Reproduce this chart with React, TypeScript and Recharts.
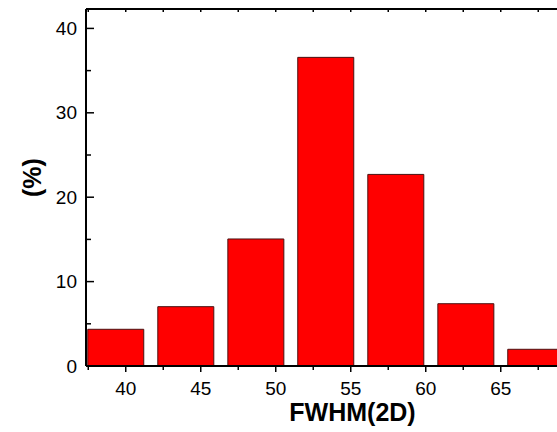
import { Bar, BarChart, XAxis, YAxis } from 'recharts'

// histogram bins of FWHM(2D), bin centres and share in percent
const binCenters = [39.33, 44.0, 48.67, 53.33, 58.0, 62.67, 67.33]
const binPercent = [4.35, 7.03, 15.05, 36.57, 22.7, 7.38, 1.98]

const xTicks = [37.5, 40, 42.5, 45, 47.5, 50, 52.5, 55, 57.5, 60, 62.5, 65, 67.5]
const yTicks = [0, 5, 10, 15, 20, 25, 30, 35, 40]

const data = binCenters.map((c, i) => ({ fwhm: c, pct: binPercent[i] }))

const FONT = '"Liberation Sans", Arial, sans-serif'

function YTick({ x, y, payload }: any) {
  const major = payload.value % 10 === 0
  return (
    <g>
      <line x1={x} x2={x + (major ? 8 : 5)} y1={y} y2={y} stroke="#000" strokeWidth={1.5} />
      {major && (
        <text x={x - 9} y={y} textAnchor="end" dominantBaseline="central" fontSize={19} fontFamily={FONT} fill="#000">
          {payload.value}
        </text>
      )}
    </g>
  )
}

function XTick({ x, y, payload }: any) {
  const major = payload.value % 5 === 0
  return (
    <g>
      <line x1={x} x2={x} y1={y} y2={y + (major ? 6 : 4)} stroke="#000" strokeWidth={1.5} />
      {major && (
        <text x={x} y={y + 22} textAnchor="middle" dominantBaseline="central" fontSize={19} fontFamily={FONT} fill="#000">
          {payload.value}
        </text>
      )}
    </g>
  )
}

function TopTick({ x, y }: any) {
  return <line x1={x} x2={x} y1={y} y2={y + 3} stroke="#000" strokeWidth={1.5} />
}

function XTitle({ viewBox }: any) {
  return (
    <text
      x={viewBox.x + viewBox.width / 2 + 31}
      y={viewBox.y + 46}
      textAnchor="middle"
      dominantBaseline="central"
      fontSize={25}
      fontWeight="bold"
      fontFamily={FONT}
      fill="#000"
    >
      FWHM(2D)
    </text>
  )
}

function YTitle({ viewBox }: any) {
  const cx = 32
  const cy = viewBox.y + viewBox.height / 2 - 10
  return (
    <text
      x={cx}
      y={cy}
      transform={`rotate(-90 ${cx} ${cy})`}
      textAnchor="middle"
      dominantBaseline="central"
      fontSize={25}
      fontWeight="bold"
      fontFamily={FONT}
      fill="#000"
    >
      (%)
    </text>
  )
}

export default function App() {
  return (
    <div style={{ position: 'absolute', left: 0, top: 0, width: 557, height: 432, overflow: 'hidden', background: '#fff' }}>
      <BarChart width={557} height={432} data={data} margin={{ top: 8, right: 0, left: 0, bottom: 6 }}>
        <XAxis
          dataKey="fwhm"
          type="number"
          domain={[37.35, 68.75]}
          allowDataOverflow
          ticks={xTicks}
          interval={0}
          height={60}
          tickSize={0}
          tickMargin={0}
          tickLine={false}
          axisLine={{ stroke: '#000', strokeWidth: 2 }}
          tick={<XTick />}
          label={<XTitle />}
        />
        <XAxis
          xAxisId="top"
          orientation="top"
          dataKey="fwhm"
          type="number"
          domain={[37.35, 68.75]}
          allowDataOverflow
          ticks={xTicks}
          interval={0}
          height={1}
          tickSize={0}
          tickMargin={0}
          tickLine={false}
          axisLine={{ stroke: '#000', strokeWidth: 2 }}
          tick={<TopTick />}
        />
        <YAxis
          type="number"
          domain={[0, 42.3]}
          allowDataOverflow
          ticks={yTicks}
          interval={0}
          width={86}
          tickSize={0}
          tickMargin={0}
          tickLine={false}
          axisLine={{ stroke: '#000', strokeWidth: 2 }}
          tick={<YTick />}
          label={<YTitle />}
        />
        <Bar dataKey="pct" barSize={56} fill="#ff0000" stroke="#4a1212" strokeWidth={1} isAnimationActive={false} />
      </BarChart>
    </div>
  )
}
